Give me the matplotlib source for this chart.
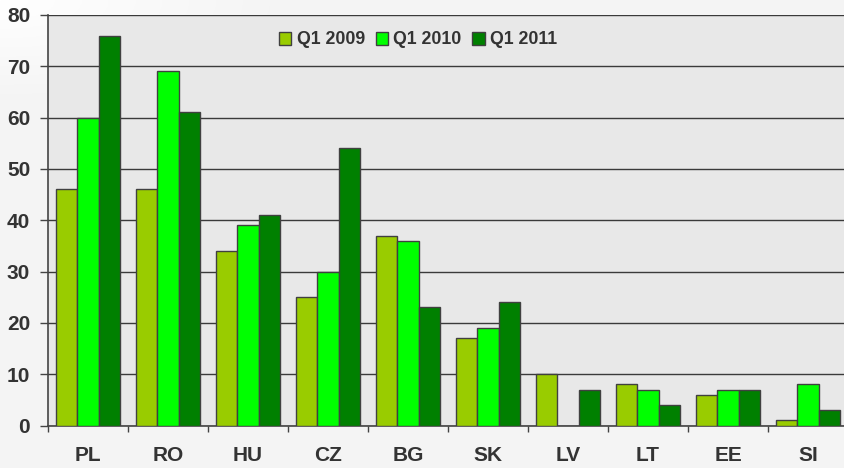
import numpy as np
import matplotlib
matplotlib.use("Agg")
import matplotlib.pyplot as plt
from matplotlib.ticker import FixedLocator, NullFormatter

categories = ["PL", "RO", "HU", "CZ", "BG", "SK", "LV", "LT", "EE", "SI"]
q1_2009 = [46, 46, 34, 25, 37, 17, 10, 8, 6, 1]
q1_2010 = [60, 69, 39, 30, 36, 19, 0, 7, 7, 8]
q1_2011 = [76, 61, 41, 54, 23, 24, 7, 4, 7, 3]
series_names = ["Q1 2009", "Q1 2010", "Q1 2011"]
series_colors = ["#99cc00", "#00ff00", "#008000"]
yticks = [0, 10, 20, 30, 40, 50, 60, 70, 80]

plt.rcParams['font.family'] = ['Liberation Sans', 'DejaVu Sans']

W, H = 844, 468
fig = plt.figure(figsize=(W / 100, H / 100), dpi=100)
fig.patch.set_facecolor("#f4f4f4")

# background gradient (white top-left to light gray)
bg = fig.add_axes([0, 0, 1, 1], zorder=-10)
yy, xx = np.mgrid[0:1:200j, 0:1:360j]
d = np.clip(np.sqrt((xx * 1.0) ** 2 + (yy * 1.6) ** 2) / 0.35, 0, 1)
val = 1.0 - (1.0 - 0.957) * d
img = np.dstack([val, val, val])
bg.imshow(img, extent=[0, 1, 0, 1], origin="upper", aspect="auto")
bg.axis("off")

ax = fig.add_axes([48 / W, 1 - 425.5 / H, 800 / W, 410.5 / H])
ax.set_facecolor("#e8e8e8")

x = np.arange(len(categories))
bw = 0.265
edge = "#404040"
for i, (vals, name, col) in enumerate(zip([q1_2009, q1_2010, q1_2011], series_names, series_colors)):
    ax.bar(x + (i - 1) * bw, vals, width=bw, color=col, edgecolor=edge,
           linewidth=1.0, label=name, zorder=3)

ax.set_xlim(-0.5, len(categories) - 0.5)
ax.set_ylim(0, 80)
ax.set_yticks(yticks)
ax.set_yticklabels([str(v) for v in yticks])
ax.yaxis.grid(True, color="#3a3a3a", linewidth=1.0, zorder=1)
ax.set_axisbelow(True)

ax.set_xticks(x)
ax.set_xticklabels(categories)
ax.xaxis.set_minor_locator(FixedLocator(np.arange(-0.5, len(categories), 1.0)))
ax.xaxis.set_minor_formatter(NullFormatter())
ax.tick_params(axis="x", which="major", length=0, pad=15, labelsize=15,
               labelcolor="#333333")
ax.tick_params(axis="x", which="minor", length=4.5, width=1, color="#444444", direction="out")
ax.tick_params(axis="y", length=5.8, width=1, color="#444444", pad=7, labelsize=15,
               labelcolor="#333333")
for lab in ax.get_xticklabels() + ax.get_yticklabels():
    lab.set_fontweight("bold")

for s in ["top", "right"]:
    ax.spines[s].set_visible(False)
for s in ["left", "bottom"]:
    ax.spines[s].set_color("#444444")
    ax.spines[s].set_linewidth(1.2)

leg = ax.legend(loc="center", bbox_to_anchor=(418 / W, 1 - 40 / H),
                bbox_transform=fig.transFigure, ncol=3, frameon=False,
                prop={"weight": "bold", "size": 12.8}, handlelength=0.7,
                handleheight=0.7, handletextpad=0.3, columnspacing=0.6)
for t in leg.get_texts():
    t.set_color("#333333")

fig.savefig("out.png", dpi=100, facecolor=fig.get_facecolor())
